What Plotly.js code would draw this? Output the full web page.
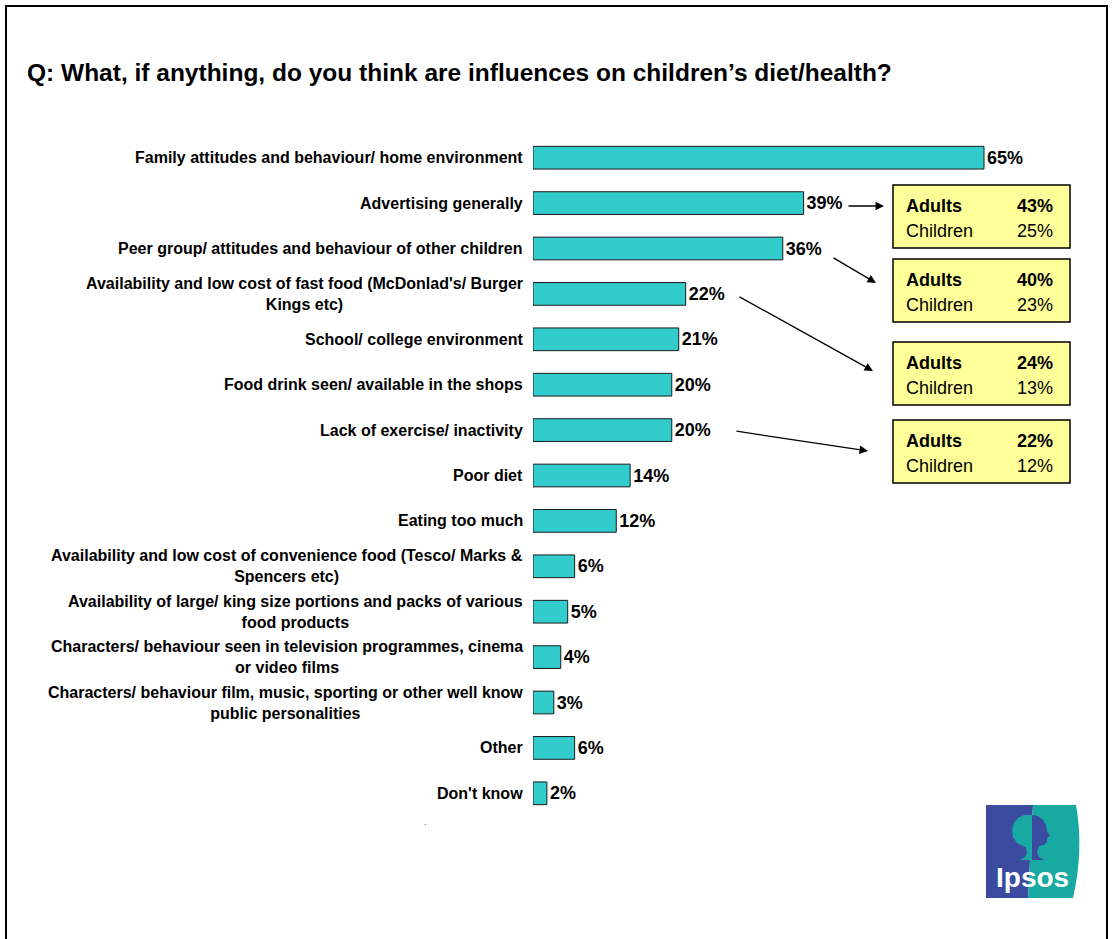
<!DOCTYPE html>
<html>
<head>
<meta charset="utf-8">
<script src="https://cdn.plot.ly/plotly-3.0.1.min.js"></script>
<style>html,body{margin:0;padding:0;background:#fff;}#chart{width:1112px;height:939px;}</style>
</head>
<body>
<div id="chart"></div>
<script>
// ---- data ----
const categories = [
  "Family attitudes and behaviour/ home environment",
  "Advertising generally",
  "Peer group/ attitudes and behaviour of other children",
  "Availability and low cost of fast food (McDonlad's/ Burger<br>Kings etc)",
  "School/ college environment",
  "Food drink seen/ available in the shops",
  "Lack of exercise/ inactivity",
  "Poor diet",
  "Eating too much",
  "Availability and low cost of convenience food (Tesco/ Marks &<br>Spencers etc)",
  "Availability of large/ king size portions and packs of various<br>food products",
  "Characters/ behaviour seen in television programmes, cinema<br>or video films",
  "Characters/ behaviour film, music, sporting or other well know<br>public personalities",
  "Other",
  "Don't know"
];
const values = [65, 39, 36, 22, 21, 20, 20, 14, 12, 6, 5, 4, 3, 6, 2];

const boxAdults = [43, 40, 24, 22];
const boxChildren = [25, 23, 13, 12];
const boxLabels = ["Adults", "Children"];

const titleText = "Q: What, if anything, do you think are influences on children\u2019s diet/health?";

// ---- geometry helpers (pixel -> paper) ----
const W = 1112, H = 939;
const mL = 533, mR = 7, mT = 135, mB = 123;
const plotW = W - mL - mR, plotH = H - mT - mB;
const px = x => (x - mL) / plotW;
const py = y => (H - mB - y) / plotH;
const pxPerUnit = 451 / 65;

const FONT = "Arial, 'Liberation Sans', sans-serif";

const trace = {
  type: "bar",
  orientation: "h",
  y: categories,
  x: values,
  marker: { color: "#33CCCC", line: { color: "#1a1a1a", width: 1 } },
  text: values.map(v => "<b>" + v + "%</b>"),
  textposition: "outside",
  textfont: { family: FONT, size: 18, color: "#000" },
  cliponaxis: false,
  hoverinfo: "none",
  width: 0.5
};

const annotations = [];
// category labels
categories.forEach(c => {
  annotations.push({
    xref: "paper", yref: "y", x: 0, y: c, xanchor: "right", yanchor: "middle",
    xshift: -8, text: "<b>" + c + "</b>", align: "center", showarrow: false,
    font: { family: FONT, size: 16, color: "#000" }
  });
});

// yellow boxes
const boxTops = [185, 259, 342, 420];
const boxH = 63, boxX0 = 893, boxX1 = 1070;
const shapes = [];
boxTops.forEach((t, i) => {
  shapes.push({
    type: "rect", xref: "paper", yref: "paper",
    x0: px(boxX0), x1: px(boxX1), y0: py(t + boxH), y1: py(t),
    fillcolor: "#FFFF99", line: { color: "#000", width: 1.5 }
  });
  const r1 = t + 21, r2 = t + 46;
  annotations.push({ xref: "paper", yref: "paper", x: px(904), y: py(r1), xanchor: "left", yanchor: "middle",
    text: "<b>" + boxLabels[0] + "</b>", showarrow: false, font: { family: FONT, size: 18, color: "#000" } });
  annotations.push({ xref: "paper", yref: "paper", x: px(1055), y: py(r1), xanchor: "right", yanchor: "middle",
    text: "<b>" + boxAdults[i] + "%</b>", showarrow: false, font: { family: FONT, size: 18, color: "#000" } });
  annotations.push({ xref: "paper", yref: "paper", x: px(904), y: py(r2), xanchor: "left", yanchor: "middle",
    text: boxLabels[1], showarrow: false, font: { family: FONT, size: 18, color: "#000" } });
  annotations.push({ xref: "paper", yref: "paper", x: px(1055), y: py(r2), xanchor: "right", yanchor: "middle",
    text: boxChildren[i] + "%", showarrow: false, font: { family: FONT, size: 18, color: "#000" } });
});

// arrows (start px, tip px)
const arrows = [
  [847, 206, 884, 206],
  [832, 257, 876, 283],
  [738, 296, 873, 371],
  [735, 431, 868, 451]
];
arrows.forEach(a => {
  annotations.push({
    xref: "paper", yref: "paper", x: px(a[2]), y: py(a[3]),
    axref: "pixel", ayref: "pixel", ax: a[0] - a[2], ay: a[1] - a[3],
    text: "", showarrow: true, arrowhead: 2, arrowsize: 1.3, arrowwidth: 1.3,
    arrowcolor: "#000", standoff: 0, startstandoff: 0
  });
});

// small dot
annotations.push({ xref: "paper", yref: "paper", x: px(422), y: py(829), text: ".", showarrow: false,
  font: { family: FONT, size: 9, color: "#444" } });

// frame
shapes.push({ type: "rect", xref: "paper", yref: "paper", x0: px(6), x1: px(1107), y0: py(950), y1: py(6),
  line: { color: "#000", width: 2 }, fillcolor: "rgba(0,0,0,0)", layer: "below" });

// Ipsos logo
const path = pts => "M" + pts.map(p => px(p[0]) + "," + py(p[1])).join(" L") + " Z";
const BLUE = "#3A4BA0", TEAL = "#17A9A2";
shapes.push({ type: "path", xref: "paper", yref: "paper", path: path([[986,805],[1033,805],[1028,898],[986,898]]),
  fillcolor: BLUE, line: { width: 0 } });
shapes.push({ type: "path", xref: "paper", yref: "paper",
  path: "M" + px(1033) + "," + py(805) + " L" + px(1076) + "," + py(805) + " Q" + px(1084) + "," + py(850) + " " + px(1073) + "," + py(898) + " L" + px(1028) + "," + py(898) + " Z",
  fillcolor: TEAL, line: { width: 0 } });
// silhouette: hair half (teal on blue) and face half (blue on teal)
shapes.push({ type: "path", xref: "paper", yref: "paper",
  path: path([[1032,815],[1024,815],[1018,818],[1014,823],[1012,830],[1013,837],[1017,843],[1023,846],[1026,847],[1027,853],[1025,857],[1020,860],[1032,860]]),
  fillcolor: TEAL, line: { width: 0 } });
shapes.push({ type: "path", xref: "paper", yref: "paper",
  path: path([[1032,815],[1038,816],[1043,820],[1046,825],[1047,831],[1050,836],[1047,838],[1047,842],[1044,845],[1039,846],[1037,852],[1039,857],[1044,860],[1032,860]]),
  fillcolor: BLUE, line: { width: 0 } });
annotations.push({ xref: "paper", yref: "paper", x: px(1032), y: py(877), xanchor: "center", yanchor: "middle",
  text: "<b>Ipsos</b>", showarrow: false, font: { family: FONT, size: 28, color: "#fff" } });

const layout = {
  width: W, height: H,
  margin: { l: mL, r: mR, t: mT, b: mB, pad: 0 },
  paper_bgcolor: "#fff", plot_bgcolor: "#fff",
  showlegend: false,
  title: { text: "<b>" + titleText + "</b>", x: 27 / W, xanchor: "left", xref: "container",
    y: 1 - 72 / H, yanchor: "middle", yref: "container",
    font: { family: FONT, size: 24.5, color: "#000" } },
  xaxis: { range: [0, plotW / pxPerUnit], visible: false, fixedrange: true },
  yaxis: { type: "category", categoryorder: "array", categoryarray: categories,
    range: [categories.length - 0.5, -0.5], showticklabels: false, showgrid: false,
    zeroline: false, showline: false, ticks: "", fixedrange: true },
  bargap: 0.49,
  shapes: shapes,
  annotations: annotations
};

Plotly.newPlot("chart", [trace], layout, { displayModeBar: false, staticPlot: true });
</script>
</body>
</html>
